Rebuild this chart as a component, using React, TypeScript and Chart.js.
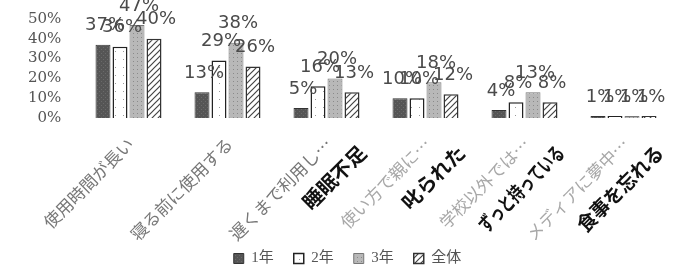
import React, { useEffect, useRef } from "react";
import { Chart, registerables } from "chart.js";

Chart.register(...registerables);

const categories = ["使用時間が長い", "寝る前に使用する", "遅くまで利用し…", "使い方で親に…", "学校以外では…", "メディアに夢中…"];
const notes = ["", "", "睡眠不足", "叱られた", "ずっと持っている", "食事を忘れる"];
const seriesNames = ["1年", "2年", "3年", "全体"];
const grade1 = [37, 13, 5, 10, 4, 1];
const grade2 = [36, 29, 16, 10, 8, 1];
const grade3 = [47, 38, 20, 18, 13, 1];
const overall = [40, 26, 13, 12, 8, 1];
const yMin = 0;
const yMax = 50;
const yStep = 10;

function makePattern(size: number, bg: string, draw: (g: CanvasRenderingContext2D) => void) {
  const c = document.createElement("canvas");
  c.width = size;
  c.height = size;
  const g = c.getContext("2d")!;
  g.fillStyle = bg;
  g.fillRect(0, 0, size, size);
  draw(g);
  return g.createPattern(c, "repeat")!;
}

const valueLabels = {
  id: "valueLabels",
  afterDatasetsDraw(chart: any) {
    const ctx = chart.ctx;
    ctx.save();
    ctx.font = '18px "DejaVu Sans"';
    ctx.fillStyle = "#4a4a4a";
    ctx.textAlign = "center";
    ctx.textBaseline = "middle";
    chart.data.datasets.forEach((ds: any, di: number) => {
      const meta = chart.getDatasetMeta(di);
      meta.data.forEach((el: any, i: number) => {
        ctx.fillText(ds.data[i] + "%", el.x + 2, el.y - 19);
      });
    });
    ctx.restore();
  },
};

const categoryLabels = {
  id: "categoryLabels",
  afterDraw(chart: any) {
    const ctx = chart.ctx;
    const xs = chart.scales.x;
    const top = xs.top;
    ctx.save();
    ctx.textAlign = "right";
    ctx.textBaseline = "middle";
    ctx.font = '17px "Noto Sans CJK JP"';
    categories.forEach((t, i) => {
      const x = xs.getPixelForValue(i) + 2;
      ctx.save();
      ctx.fillStyle = i < 3 ? "#777" : "#a8a8a8";
      ctx.translate(x, top + 23);
      ctx.rotate(-Math.PI / 4);
      ctx.fillText(t, 0, 0);
      ctx.restore();
    });
    ctx.font = 'bold 20px "Noto Sans CJK JP"';
    ctx.fillStyle = "#111";
    notes.forEach((t, i) => {
      if (!t) return;
      const x = xs.getPixelForValue(i) + 36;
      ctx.save();
      ctx.translate(x, top + 31);
      ctx.rotate(-Math.PI / 4);
      ctx.fillText(t, 0, 0, 112);
      ctx.restore();
    });
    ctx.restore();
  },
};

export default function App() {
  const ref = useRef<HTMLCanvasElement>(null);
  useEffect(() => {
    const solid = makePattern(4, "#555", (g) => {
      g.fillStyle = "#6a6a6a";
      g.fillRect(1, 1, 1, 1);
      g.fillRect(3, 3, 1, 1);
    });
    const dots = makePattern(8, "#ffffff", (g) => {
      g.fillStyle = "#9a9a9a";
      g.fillRect(3, 3, 1, 1);
    });
    const greyDots = makePattern(4, "#b8b8b8", (g) => {
      g.fillStyle = "#8a8a8a";
      g.fillRect(1, 1, 1, 1);
    });
    const hatch = makePattern(6, "#ffffff", (g) => {
      g.strokeStyle = "#444";
      g.lineWidth = 1.2;
      g.beginPath();
      g.moveTo(0, 6);
      g.lineTo(6, 0);
      g.moveTo(-1, 1);
      g.lineTo(1, -1);
      g.moveTo(5, 7);
      g.lineTo(7, 5);
      g.stroke();
    });
    const fills = [solid, dots, greyDots, hatch];
    const borders = ["#333", "#222", "#777", "#333"];
    const borderWidths = [1, 1.5, 1, 1.5];
    const values = [grade1, grade2, grade3, overall];

    const chart = new Chart(ref.current!, {
      type: "bar",
      data: {
        labels: categories,
        datasets: seriesNames.map((name, i) => ({
          label: name,
          data: values[i],
          backgroundColor: fills[i] as any,
          borderColor: borders[i],
          borderWidth: borderWidths[i],
          categoryPercentage: 0.687,
          barPercentage: 0.88,
        })),
      },
      options: {
        animation: false,
        responsive: true,
        maintainAspectRatio: false,
        layout: { padding: { top: 16, right: 10, bottom: -6, left: 22 } },
        plugins: {
          legend: {
            position: "bottom",
            labels: {
              boxWidth: 10,
              boxHeight: 10,
              padding: 20,
              color: "#555",
              font: { size: 15, family: '"Liberation Serif", "Noto Sans CJK JP"' },
            },
          },
          tooltip: { enabled: false },
        },
        scales: {
          x: {
            grid: { display: false },
            border: { display: false },
            afterFit: (s: any) => {
              s.height = 113;
            },
            ticks: { display: false },
          },
          y: {
            min: yMin,
            max: yMax,
            grid: { display: false, drawTicks: false },
            border: { display: false },
            afterFit: (s: any) => {
              s.width = 57;
            },
            ticks: {
              stepSize: yStep,
              autoSkip: false,
              padding: 10,
              color: "#555",
              font: { size: 15, family: '"DejaVu Serif"' },
              callback: (v: any) => v + "% \u2009",
            },
          },
        },
      },
      plugins: [valueLabels, categoryLabels],
    });
    return () => chart.destroy();
  }, []);
  return (
    <div style={{ position: "fixed", left: 0, top: 0, width: 683, height: 270, background: "#fff" }}>
      <canvas ref={ref} />
    </div>
  );
}
